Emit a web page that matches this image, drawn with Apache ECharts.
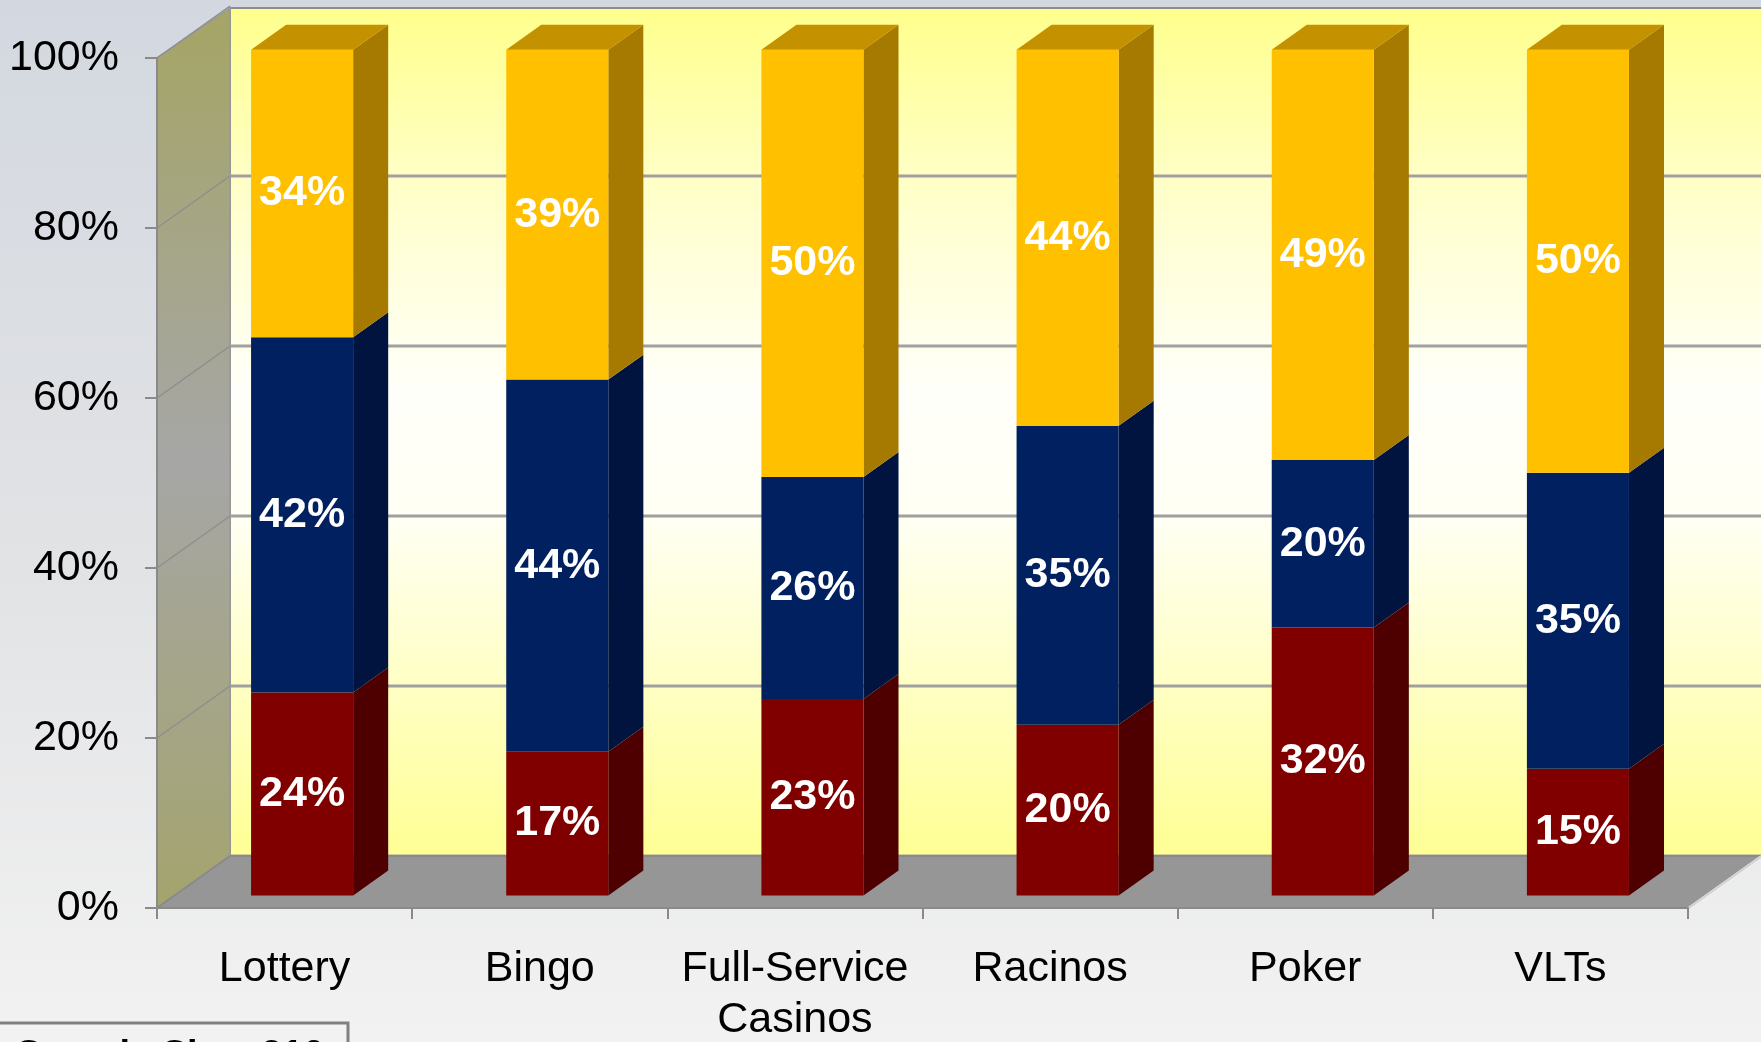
<!DOCTYPE html>
<html lang="en">
<head>
    <meta charset="UTF-8">
    <title>Share by venue</title>
    <script src="https://cdn.jsdelivr.net/npm/echarts@6/dist/echarts.min.js"></script>
    <style>
        html, body { margin: 0; padding: 0; background: #f2f2f2; }
    </style>
</head>
<body>
    <div id="chart" style="width: 1761px; height: 1042px;"></div>
    <script>
        // data
        const categories = ['Lottery', 'Bingo', 'Full-Service\nCasinos', 'Racinos', 'Poker', 'VLTs'];
        const bottomShare = [24, 17, 23, 20, 32, 15];
        const middleShare = [42, 44, 26, 35, 20, 35];
        const topShare = [34, 39, 50, 44, 49, 50];
        const yTicks = [0, 20, 40, 60, 80, 100];

        // depth of the fake 3d box (px)
        const DX = 73, DY = -52;
        const F0 = 0.24;      // bar front face depth
        const BD = 0.48;      // bar depth

        const layers = [
            { name: 'Bottom', values: bottomShare, front: '#800000', side: '#4e0000', top: '#5a0000' },
            { name: 'Middle', values: middleShare, front: '#002060', side: '#00143f', top: '#00184a' },
            { name: 'Top', values: topShare, front: '#ffc000', side: '#a67a00', top: '#c49200' }
        ];

        // stacks normalised to 100% like the original chart
        const totals = categories.map((c, i) => layers.reduce((s, l) => s + l.values[i], 0));
        const stacks = layers.map((l, k) => l.values.map((v, i) => {
            let base = 0;
            for (let j = 0; j < k; j++) base += layers[j].values[i];
            return [i, base / totals[i] * 100, (base + v) / totals[i] * 100];
        }));

        function renderBackground(params, api) {
            const band = api.size([1, 0])[0];
            const x0 = api.coord([0, 0])[0] - band / 2;
            const x1 = api.coord([categories.length - 1, 0])[0] + band / 2;
            const y0 = api.coord([0, 0])[1];
            const y100 = api.coord([0, 100])[1];
            const children = [];
            // back wall
            children.push({
                type: 'rect',
                shape: { x: x0 + DX, y: y100 + DY + 2, width: x1 - x0 + 5, height: y0 - y100 - 2 },
                style: {
                    fill: new echarts.graphic.LinearGradient(0, 0, 0, 1, [
                        { offset: 0, color: '#ffff8c' },
                        { offset: 0.2, color: '#ffffc6' },
                        { offset: 0.45, color: '#fffffa' },
                        { offset: 0.6, color: '#fffff4' },
                        { offset: 0.8, color: '#ffffc4' },
                        { offset: 1, color: '#ffff94' }
                    ]),
                    stroke: '#8c8c8c', lineWidth: 2
                }
            });
            // left wall
            children.push({
                type: 'polygon',
                shape: { points: [[x0, y0], [x0 + DX, y0 + DY], [x0 + DX, y100 + DY + 2], [x0, y100]] },
                style: {
                    fill: new echarts.graphic.LinearGradient(0, 0, 0, 1, [
                        { offset: 0, color: '#a5a565' },
                        { offset: 0.5, color: '#a6a6a6' },
                        { offset: 1, color: '#a4a46e' }
                    ]),
                    stroke: '#999999', lineWidth: 1.5
                }
            });
            // gridlines
            yTicks.forEach(t => {
                const y = api.coord([0, t])[1];
                if (t < 100) {
                    children.push({
                        type: 'line',
                        shape: { x1: x0 + DX, y1: y + DY, x2: x1 + DX + 5, y2: y + DY },
                        style: { stroke: '#a0a0a0', lineWidth: 3 }
                    });
                }
                children.push({
                    type: 'line',
                    shape: { x1: x0, y1: y, x2: x0 + DX, y2: y + DY },
                    style: { stroke: '#8e8e8e', lineWidth: 1.5 }
                });
            });
            // floor
            children.push({
                type: 'polygon',
                shape: { points: [[x0, y0], [x1, y0], [x1 + DX, y0 + DY], [x0 + DX, y0 + DY]] },
                style: { fill: '#969696', stroke: '#8a8a8a', lineWidth: 2 }
            });
            children.push({
                type: 'line',
                shape: { x1: x1, y1: y0, x2: x1 + DX, y2: y0 + DY },
                style: { stroke: '#d8d8d8', lineWidth: 2 }
            });
            return { type: 'group', children: children };
        }

        function barRenderer(layerIndex) {
            const layer = layers[layerIndex];
            const isTop = layerIndex === layers.length - 1;
            return function (params, api) {
                const cat = api.value(0);
                const band = api.size([1, 0])[0];
                const w = band * 0.4;
                const pLo = api.coord([cat, api.value(1)]);
                const pHi = api.coord([cat, api.value(2)]);
                const p0 = api.coord([cat, 0]);
                const fx = pLo[0] + F0 * DX - w / 2;
                // bars sit a bit further back, so their scale is a touch smaller
                const yb = p0[1] + F0 * DY - (p0[1] - pLo[1]) * 0.995;
                const yt = p0[1] + F0 * DY - (p0[1] - pHi[1]) * 0.995;
                const dx = BD * DX, dy = BD * DY;
                const children = [
                    {
                        type: 'polygon',
                        shape: { points: [[fx + w, yt], [fx + w + dx, yt + dy], [fx + w + dx, yb + dy], [fx + w, yb]] },
                        style: { fill: layer.side }
                    },
                    {
                        type: 'rect',
                        shape: { x: fx, y: yt, width: w, height: yb - yt },
                        style: { fill: layer.front }
                    }
                ];
                if (isTop) {
                    children.push({
                        type: 'polygon',
                        shape: { points: [[fx, yt], [fx + w, yt], [fx + w + dx, yt + dy], [fx + dx, yt + dy]] },
                        style: { fill: layer.top }
                    });
                }
                children.push({
                    type: 'text',
                    x: fx + w / 2,
                    y: (yt + yb) / 2,
                    style: {
                        text: layer.values[params.dataIndex] + '%',
                        fill: '#ffffff',
                        font: 'bold 43px "Liberation Sans", Arial, sans-serif',
                        align: 'center',
                        verticalAlign: 'middle'
                    }
                });
                return { type: 'group', children: children };
            };
        }

        const chart = echarts.init(document.getElementById('chart'));

        const series = [{
            type: 'custom',
            name: 'box',
            silent: true,
            z: 1,
            data: [[0, 0]],
            renderItem: renderBackground
        }];
        layers.forEach((l, k) => {
            series.push({
                type: 'custom',
                name: l.name,
                z: 5 + k,
                data: stacks[k],
                encode: { x: 0, y: [1, 2] },
                renderItem: barRenderer(k)
            });
        });

        const option = {
            animation: false,
            backgroundColor: new echarts.graphic.LinearGradient(0, 0, 0, 1, [
                { offset: 0, color: '#d3d8e0' },
                { offset: 0.55, color: '#e2e3e5' },
                { offset: 1, color: '#f2f2f2' }
            ]),
            grid: { left: 157, right: 73, top: 58, bottom: 134, outerBoundsMode: 'none', containLabel: false },
            xAxis: {
                type: 'category',
                data: categories,
                axisLine: { show: true, lineStyle: { color: '#8a8a8a', width: 2 } },
                axisTick: { show: true, length: 11, lineStyle: { color: '#8a8a8a', width: 2 } },
                axisLabel: {
                    interval: 0, margin: 36,
                    fontSize: 43, lineHeight: 51, color: '#000',
                    fontFamily: '"Liberation Sans", Arial, sans-serif'
                },
                splitLine: { show: false },
                z: 20
            },
            yAxis: {
                type: 'value',
                min: 0, max: 100, interval: 20,
                axisLine: { show: true, lineStyle: { color: '#8a8a8a', width: 2 } },
                axisTick: { show: true, length: 12, lineStyle: { color: '#8a8a8a', width: 2 } },
                axisLabel: {
                    formatter: '{value}%', margin: 38,
                    fontSize: 43, color: '#000',
                    fontFamily: '"Liberation Sans", Arial, sans-serif'
                },
                splitLine: { show: false },
                z: 20
            },
            graphic: [
                {
                    type: 'rect',
                    shape: { x: -2, y: 1023, width: 350, height: 40 },
                    style: { fill: '#f2f2f2', stroke: '#808080', lineWidth: 3 },
                    z: 50
                },
                {
                    type: 'text',
                    x: 16, y: 1038,
                    style: {
                        text: 'Sample Size: 210',
                        font: 'bold 38px "Liberation Sans", Arial, sans-serif',
                        fill: '#000'
                    },
                    z: 51
                }
            ],
            series: series
        };

        chart.setOption(option);
    </script>
</body>
</html>
